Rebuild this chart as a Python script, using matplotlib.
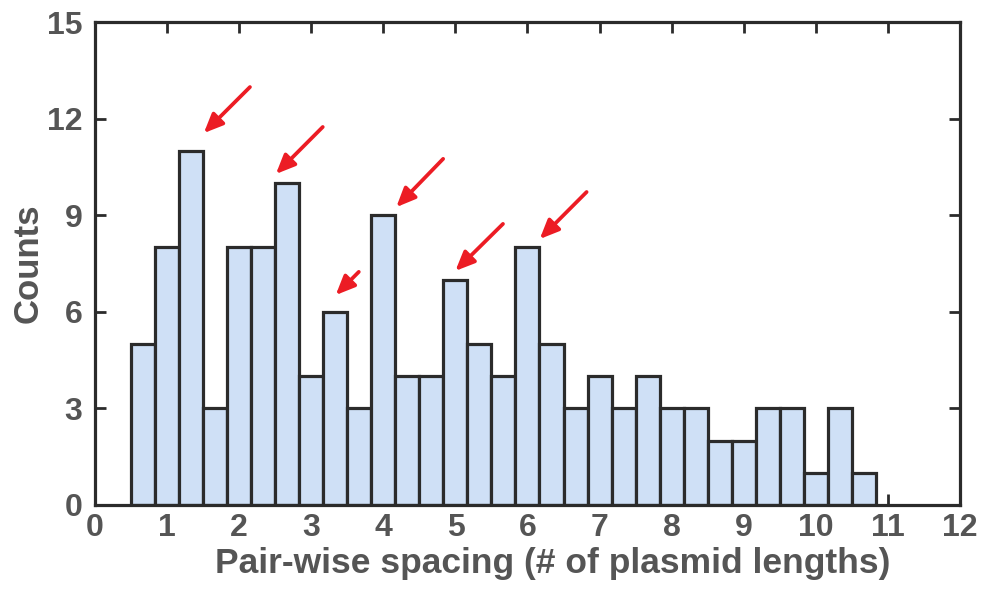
"""Histogram of pair-wise plasmid spacing with arrows marking the peaks."""

import numpy as np
import matplotlib.pyplot as plt

# bin edges run from 0.5 in steps of 1/3 plasmid length
BIN_START = 0.5
BIN_WIDTH = 1 / 3
COUNTS = [5, 8, 11, 3, 8, 8, 10, 4, 6, 3, 9, 4, 4, 7, 5, 4,
          8, 5, 3, 4, 3, 4, 3, 3, 2, 2, 3, 3, 1, 3, 1]

# arrows: (tail x, tail y) -> (head x, head y), in data units
ARROW_TAILS = [(2.15, 12.98), (3.16, 11.74), (3.66, 7.24),
               (4.83, 10.75), (5.66, 8.73), (6.82, 9.72)]
ARROW_HEADS = [(1.51, 11.55), (2.51, 10.28), (3.34, 6.52),
               (4.18, 9.25), (5.00, 7.27), (6.17, 8.26)]

XTICKS = list(range(0, 13))
YTICKS = [0, 3, 6, 9, 12, 15]

TEXT_COLOR = "#555555"
EDGE_COLOR = "#2b2b2b"


def main():
    plt.rcParams["font.family"] = ["Liberation Sans", "DejaVu Sans"]
    plt.rcParams["font.weight"] = "bold"

    fig = plt.figure(figsize=(9.81, 5.90), dpi=100)
    ax = fig.add_axes([0.0968, 0.1441, 0.9786 - 0.0968, 0.9627 - 0.1441])

    lefts = BIN_START + BIN_WIDTH * np.arange(len(COUNTS))
    ax.bar(lefts, COUNTS, width=BIN_WIDTH, align="edge",
           color="#cfe0f6", edgecolor=EDGE_COLOR, linewidth=2.3, zorder=2)

    for (tx, ty), (hx, hy) in zip(ARROW_TAILS, ARROW_HEADS):
        ax.annotate("", xy=(hx, hy), xytext=(tx, ty),
                    arrowprops=dict(arrowstyle="-|>,head_length=1.15,head_width=0.5",
                                    color="#ec1c24", lw=2.7,
                                    shrinkA=0, shrinkB=0),
                    zorder=3)

    ax.set_xlim(0, 12)
    ax.set_ylim(0, 15)
    ax.set_xticks(XTICKS)
    ax.set_yticks(YTICKS)
    ax.tick_params(direction="in", length=8, width=2, color=EDGE_COLOR,
                   top=True, right=True, labelsize=23,
                   labelcolor=TEXT_COLOR)
    ax.tick_params(axis="y", pad=9)
    ax.tick_params(axis="x", pad=6)
    for sp in ax.spines.values():
        sp.set_linewidth(2.3)
        sp.set_color(EDGE_COLOR)

    ax.set_xlabel("Pair-wise spacing (# of plasmid lengths)", fontsize=25.5,
                  fontweight="bold", color=TEXT_COLOR)
    ax.set_ylabel("Counts", fontsize=25, fontweight="bold", color=TEXT_COLOR)
    # MATLAB-style label placement (xlabel sits a bit right of centre)
    ax.xaxis.set_label_coords(0.5295, -0.086)
    ax.yaxis.set_label_coords(-0.058, 0.5)

    fig.savefig("out.png", dpi=100)
    plt.close(fig)


if __name__ == "__main__":
    main()
